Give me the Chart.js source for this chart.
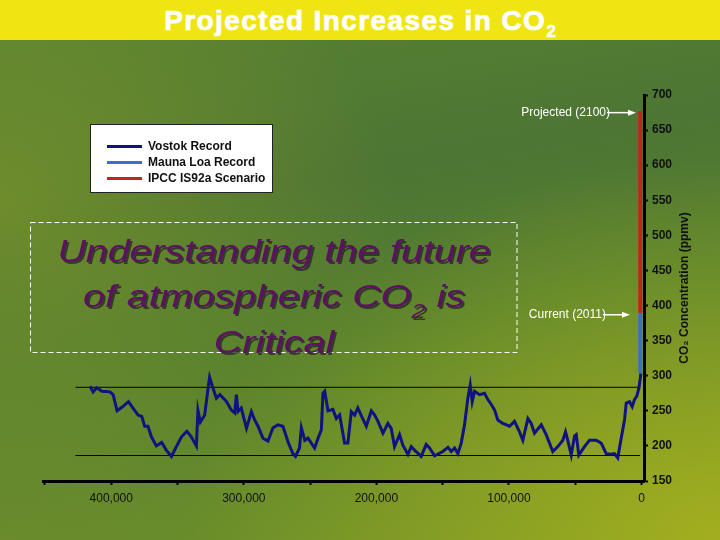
<!DOCTYPE html>
<html>
<head>
<meta charset="utf-8">
<script src="https://cdn.jsdelivr.net/npm/chart.js@4.4.1/dist/chart.umd.min.js"></script>
<style>
html,body{margin:0;padding:0;width:720px;height:540px;overflow:hidden;}
body{
  position:relative;
  font-family:'Liberation Sans',Arial,sans-serif;
  background:
    radial-gradient(ellipse 55% 55% at 0% 38%, rgba(128,152,40,0.65), rgba(128,152,40,0) 100%),
    radial-gradient(ellipse 75% 70% at 100% 100%, rgba(165,176,30,0.95), rgba(165,176,30,0) 100%),
    radial-gradient(ellipse 50% 40% at 0% 100%, rgba(112,140,44,0.6), rgba(112,140,44,0) 100%),
    linear-gradient(170deg, #5a8431 0%, #4d7534 35%, #55802f 60%, #6f9229 100%);
}
#wrap{position:absolute;left:0;top:0;width:720px;height:540px;}
#title{
  position:absolute;left:0;top:0;width:720px;height:40px;
  background:#efe512;color:#fff;font-weight:bold;font-size:28px;
  text-align:center;line-height:40px;letter-spacing:1.4px;
  -webkit-text-stroke:0.7px #fff;padding-top:1px;box-sizing:border-box;
}
#title .sub{font-size:17px;position:relative;top:7px;letter-spacing:0;}
</style>
</head>
<body>
<div id="wrap"><canvas id="c" width="720" height="540"></canvas></div>
<div id="title">Projected Increases in CO<span class="sub">2</span></div>
<script>
// ---------------- data ----------------
const seriesLabels = ['Vostok Record', 'Mauna Loa Record', 'IPCC IS92a Scenario'];

const vostokYears = [
  416000, 413700, 411000, 407000, 401000, 398600, 395600, 392000, 387000, 383600,
  379800, 377000, 374800, 372300, 369700, 366000, 362000, 358500, 354600, 350900,
  347000, 343000, 339600, 335800, 334600, 332800, 329500, 327000, 325800, 323700,
  320700, 318000, 314500, 313000, 309400, 306900, 305600, 304400, 301900, 298000,
  294300, 291800, 289300, 285600, 281800, 278000, 274300, 270500, 266700, 263000,
  261000, 258000, 256600, 254000, 251600, 246600, 244000, 241500, 240300, 239000,
  236500, 232800, 230200, 227700, 224000, 221500, 218900, 216400, 214000, 211400,
  207600, 203800, 201300, 198800, 195000, 191300, 188800, 186300, 182500, 180000,
  176200, 173700, 171200, 166200, 162400, 159900, 156100, 149900, 146000, 143500,
  141000, 138500, 136000, 133500, 131000, 129200, 127700, 125900, 122200, 118400,
  115900, 113300, 110800, 108400, 104600, 99500, 95800, 92000, 89500, 85700,
  83200, 80700, 75600, 71900, 66900, 63100, 59300, 57300, 55600, 53000,
  50500, 49200, 47300, 43000, 39200, 34200, 30400, 26600, 22800, 20400,
  17900, 15300, 12800, 11500, 9000, 7000, 5300, 3500, 2000, 1200, 500
];
const vostokCO2 = [
  285, 277, 283, 278, 277, 273, 250, 255, 263, 254,
  244, 242, 228, 228, 213, 200, 205, 194, 185, 199,
  213, 221, 213, 200, 251, 234, 244, 282, 298, 285,
  268, 273, 266, 263, 251, 247, 273, 249, 254, 225,
  249, 237, 228, 211, 207, 226, 230, 228, 206, 189,
  185, 197, 226, 208, 211, 197, 211, 223, 275, 278,
  250, 252, 239, 244, 204, 204, 249, 244, 254, 243,
  228, 250, 244, 235, 218, 232, 225, 199, 216, 201,
  188, 199, 194, 185, 202, 197, 186, 192, 198, 192,
  197, 189, 204, 230, 268, 287, 263, 278, 273, 275,
  266, 259, 251, 237, 232, 228, 235, 220, 208, 239,
  232, 218, 230, 216, 192, 199, 208, 220, 208, 187,
  214, 216, 187, 199, 208, 208, 204, 189, 188, 189,
  183, 211, 237, 261, 263, 256, 266, 271, 282, 292, 303
];

const maunaLoaYears = [900, 900];
const maunaLoaCO2 = [303, 389];
const ipccYears = [900, 900];
const ipccCO2 = [389, 677];

const refLineYears = [427000, 1000];
const refHighCO2 = [283.5, 283.5];
const refLowCO2 = [186.3, 186.3];

const xTickValues = [0, 50000, 100000, 150000, 200000, 250000, 300000, 350000, 400000, 450000];
const xTickLabels = ['0', '', '100,000', '', '200,000', '', '300,000', '', '400,000', ''];
const yTickValues = [150, 200, 250, 300, 350, 400, 450, 500, 550, 600, 650, 700];
const yTickLabels = ['150', '200', '250', '300', '350', '400', '450', '500', '550', '600', '650', '700'];

const yAxisTitle = 'CO\u2082 Concentration (ppmv)';
const projectedLabel = 'Projected (2100)';
const currentLabel = 'Current (2011)';
const noteLine1 = 'Understanding the future';
const noteLine2a = 'of atmospheric CO';
const noteLine2sub = '2';
const noteLine2b = ' is';
const noteLine3 = 'Critical';

// ---------------- chart ----------------
const FONT = "'Liberation Sans', Arial, sans-serif";
Chart.defaults.font.family = FONT;

const toXY = (xs, ys) => xs.map((x, i) => ({x: x, y: ys[i]}));

const colors = {
  vostok: '#10137f',
  mauna: '#3a70cc',
  ipcc: '#c4241c'
};

const decor = {
  id: 'decor',
  afterDraw(chart) {
    const ctx = chart.ctx;
    const ys = chart.scales.y;
    const ca = chart.chartArea;

    // y axis title (reads bottom to top)
    ctx.save();
    ctx.translate(685, (ca.top + ca.bottom) / 2);
    ctx.rotate(-Math.PI / 2);
    ctx.font = 'bold 12px ' + FONT;
    ctx.fillStyle = '#111';
    ctx.textAlign = 'center';
    ctx.textBaseline = 'middle';
    ctx.fillText(yAxisTitle, 0, 0);
    ctx.restore();

    // marker labels with arrows
    function marker(text, value, textRight, tipX) {
      const py = ys.getPixelForValue(value) + 1.5;
      ctx.save();
      ctx.font = '12px ' + FONT;
      ctx.fillStyle = '#fff';
      ctx.strokeStyle = '#fff';
      ctx.textAlign = 'right';
      ctx.textBaseline = 'middle';
      ctx.fillText(text, textRight, py);
      ctx.lineWidth = 1.5;
      ctx.beginPath();
      ctx.moveTo(textRight - 3, py);
      ctx.lineTo(tipX - 6, py);
      ctx.stroke();
      ctx.beginPath();
      ctx.moveTo(tipX, py);
      ctx.lineTo(tipX - 8, py - 3);
      ctx.lineTo(tipX - 8, py + 3);
      ctx.closePath();
      ctx.fill();
      ctx.restore();
    }
    marker(projectedLabel, ipccCO2[1], 610, 636);
    marker(currentLabel, maunaLoaCO2[1], 606, 630);

    // legend box
    ctx.save();
    ctx.fillStyle = '#fff';
    ctx.fillRect(90, 124, 183, 69);
    ctx.strokeStyle = '#222';
    ctx.lineWidth = 1;
    ctx.strokeRect(90.5, 124.5, 182, 68);
    const legendColors = [colors.vostok, colors.mauna, colors.ipcc];
    ctx.font = 'bold 12px ' + FONT;
    ctx.textBaseline = 'middle';
    ctx.textAlign = 'left';
    seriesLabels.forEach((lab, i) => {
      const ly = 146.5 + i * 16;
      ctx.strokeStyle = legendColors[i];
      ctx.lineWidth = 3;
      ctx.beginPath();
      ctx.moveTo(107, ly);
      ctx.lineTo(142, ly);
      ctx.stroke();
      ctx.fillStyle = '#111';
      ctx.fillText(lab, 148, ly + 0.5);
    });
    ctx.restore();

    // dashed note box
    ctx.save();
    ctx.strokeStyle = '#fff';
    ctx.lineWidth = 1;
    ctx.setLineDash([5, 3]);
    ctx.strokeRect(30.5, 222.5, 486.5, 130);
    ctx.restore();

    // note text
    const sx = 1.23;
    const cx = 274;
    ctx.save();
    ctx.fillStyle = '#5c1260';
    ctx.shadowColor = 'rgba(35,35,35,0.75)';
    ctx.shadowOffsetX = 2;
    ctx.shadowOffsetY = 2;
    ctx.shadowBlur = 0;
    ctx.textBaseline = 'alphabetic';
    ctx.textAlign = 'left';
    const big = 'italic 32px ' + FONT;
    const small = 'italic 21px ' + FONT;
    function drawSegs(segs, baseline) {
      let total = 0;
      segs.forEach(s => { ctx.font = s.font; s.w = ctx.measureText(s.t).width; total += s.w; });
      let x = cx - total * sx / 2;
      segs.forEach(s => {
        ctx.save();
        ctx.translate(x, baseline + (s.dy || 0));
        ctx.scale(sx, 1);
        ctx.font = s.font;
        ctx.fillText(s.t, 0, 0);
        ctx.restore();
        x += s.w * sx;
      });
    }
    drawSegs([{t: noteLine1, font: big}], 262);
    drawSegs([{t: noteLine2a, font: big}, {t: noteLine2sub, font: small, dy: 11}, {t: noteLine2b, font: big}], 307);
    drawSegs([{t: noteLine3, font: big}], 353);
    ctx.restore();
  }
};

const lineDs = (label, data, color, width) => ({
  label: label, data: data, borderColor: color, backgroundColor: color,
  borderWidth: width, pointRadius: 0, showLine: true, fill: false, tension: 0
});

new Chart(document.getElementById('c'), {
  type: 'scatter',
  data: {
    datasets: [
      lineDs(seriesLabels[0], toXY(vostokYears, vostokCO2), colors.vostok, 3),
      lineDs(seriesLabels[1], toXY(maunaLoaYears, maunaLoaCO2), colors.mauna, 4),
      lineDs(seriesLabels[2], toXY(ipccYears, ipccCO2), colors.ipcc, 4),
      lineDs('', toXY(refLineYears, refHighCO2), '#000', 1),
      lineDs('', toXY(refLineYears, refLowCO2), '#000', 1)
    ]
  },
  options: {
    responsive: false,
    animation: false,
    devicePixelRatio: 1,
    layout: {padding: {left: 43, top: 95, right: 0, bottom: 0}},
    plugins: {legend: {display: false}, tooltip: {enabled: false}},
    scales: {
      x: {
        type: 'linear', position: 'bottom', reverse: true,
        min: -1900, max: 451500,
        afterBuildTicks: s => { s.ticks = xTickValues.map(v => ({value: v})); },
        afterFit: s => { s.height = 59; },
        grid: {display: true, drawOnChartArea: false, drawTicks: true, tickLength: 4, tickWidth: 2, tickColor: '#000'},
        border: {display: true, color: '#000', width: 3},
        ticks: {
          autoSkip: false, maxRotation: 0, minRotation: 0, padding: 6,
          color: '#111', font: {size: 12},
          callback: v => { const i = xTickValues.indexOf(v); return i >= 0 ? xTickLabels[i] : ''; }
        }
      },
      y: {
        type: 'linear', position: 'right',
        min: 150, max: 700,
        afterBuildTicks: s => { s.ticks = yTickValues.map(v => ({value: v})); },
        afterFit: s => { s.width = 76; },
        grid: {display: true, drawOnChartArea: false, drawTicks: true, tickLength: 4, tickWidth: 2, tickColor: '#000'},
        border: {display: true, color: '#000', width: 3},
        ticks: {
          autoSkip: false, padding: 4, color: '#111', font: {size: 12, weight: 'bold'},
          callback: v => { const i = yTickValues.indexOf(v); return i >= 0 ? yTickLabels[i] : ''; }
        }
      }
    }
  },
  plugins: [decor]
});
</script>
</body>
</html>
